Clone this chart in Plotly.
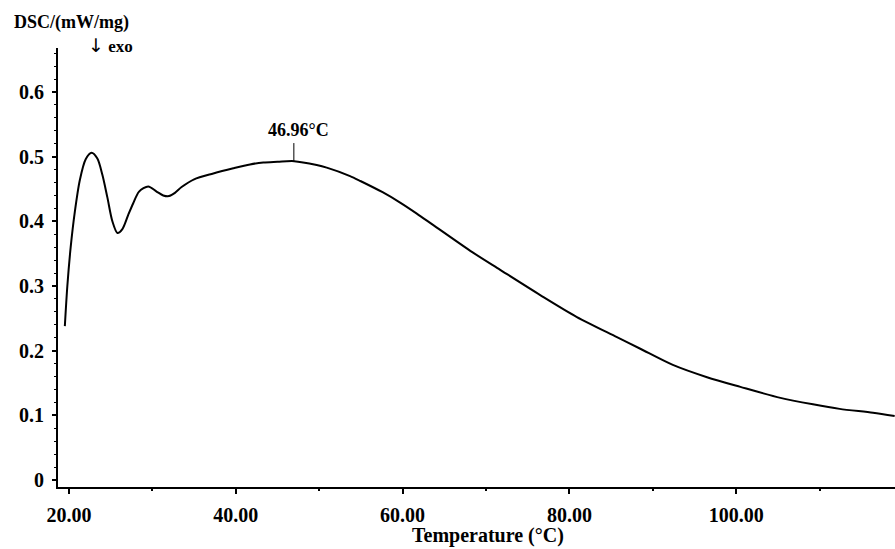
import plotly.graph_objects as go

# DSC curve
temperature = [19.5, 19.8, 20.2, 20.7, 21.3, 22.0, 22.7, 23.4, 24.0, 24.6, 25.2, 25.8,
               26.4, 27.1, 27.7, 28.4, 29.5, 30.5, 31.3, 32.0, 32.7, 33.5, 35.0, 37.3,
               39.7, 41.7, 43.3, 45.0, 47.0, 49.7, 50.9, 53.7, 55.0, 57.6, 59.7, 61.7,
               63.6, 68.4, 71.7, 76.5, 80.9, 85.7, 88.5, 92.4, 96.5, 100.5, 105.3,
               109.2, 112.4, 116.4, 119.0]
dsc = [0.238, 0.300, 0.360, 0.415, 0.464, 0.496, 0.506, 0.497, 0.472, 0.437, 0.400, 0.382,
       0.388, 0.410, 0.428, 0.446, 0.454, 0.446, 0.440, 0.439, 0.444, 0.453, 0.465, 0.474,
       0.482, 0.488, 0.491, 0.492, 0.493, 0.487, 0.483, 0.470, 0.462, 0.445, 0.429, 0.412,
       0.395, 0.352, 0.325, 0.286, 0.252, 0.221, 0.203, 0.178, 0.159, 0.144, 0.127,
       0.117, 0.110, 0.104, 0.099]

peak_temp = 46.96
peak_value = 0.493
peak_label = "46.96°C"

x_ticks = [20, 40, 60, 80, 100]
x_tick_labels = ["20.00", "40.00", "60.00", "80.00", "100.00"]
y_ticks = [0, 0.1, 0.2, 0.3, 0.4, 0.5, 0.6]
y_tick_labels = ["0", "0.1", "0.2", "0.3", "0.4", "0.5", "0.6"]

FONT = "Liberation Serif"

fig = go.Figure()
fig.add_trace(go.Scatter(
    x=temperature, y=dsc, mode="lines",
    line=dict(color="black", width=2, shape="spline", smoothing=0.8),
    showlegend=False, hoverinfo="skip",
))

# peak marker
fig.add_shape(type="line", xref="x", yref="y",
              x0=peak_temp, x1=peak_temp, y0=peak_value, y1=peak_value + 0.028,
              line=dict(color="black", width=1))
fig.add_annotation(x=peak_temp + 0.6, y=peak_value + 0.028, xref="x", yref="y",
                   text=peak_label, showarrow=False, yanchor="bottom", yshift=1,
                   font=dict(family=FONT, size=18, color="black", weight="bold"))

# axis labels
fig.add_annotation(x=(12 - 58) / 837, y=(487 - 23) / 439, xref="paper", yref="paper",
                   xanchor="left", yanchor="middle", showarrow=False,
                   text="DSC/(mW/mg)",
                   font=dict(family=FONT, size=18, color="black", weight="bold"))
fig.add_annotation(x=(86 - 58) / 837, y=(487 - 45) / 439, xref="paper", yref="paper",
                   xanchor="left", yanchor="middle", showarrow=False,
                   text="<span style='font-family:DejaVu Sans;font-size:19px;font-weight:normal'>↓</span> exo",
                   font=dict(family=FONT, size=17, color="black", weight="bold"))
fig.add_annotation(x=(488 - 58) / 837, y=(487 - 535) / 439, xref="paper", yref="paper",
                   xanchor="center", yanchor="middle", showarrow=False,
                   text="Temperature (°C)",
                   font=dict(family=FONT, size=20, color="black", weight="bold"))

fig.update_xaxes(
    range=[18.68, 119.04], tickvals=x_ticks, ticktext=x_tick_labels,
    showgrid=False, zeroline=False, showline=True, linecolor="black", linewidth=2,
    ticks="outside", ticklen=5, tickwidth=2, tickcolor="black",
    minor=dict(dtick=10, tick0=0, ticks="outside", ticklen=2, tickwidth=2, tickcolor="black"),
    tickfont=dict(family=FONT, size=20, color="black", weight="bold"),
    ticklabelstandoff=4, automargin=False,
)
fig.update_yaxes(
    range=[-0.0108, 0.668], tickvals=y_ticks, ticktext=y_tick_labels,
    showgrid=False, zeroline=False, showline=True, linecolor="black", linewidth=2,
    ticks="outside", ticklen=4, tickwidth=2, tickcolor="black",
    minor=dict(dtick=0.02, tick0=0, ticks="outside", ticklen=2, tickwidth=1, tickcolor="black"),
    tickfont=dict(family=FONT, size=20, color="black", weight="bold"),
    ticklabelstandoff=4, automargin=False,
)

fig.update_layout(
    width=895, height=549,
    margin=dict(l=58, r=0, t=48, b=62),
    paper_bgcolor="white", plot_bgcolor="white",
)

fig.write_html("out.html", config={"displayModeBar": False},
               post_script="document.body.style.margin='0';")
